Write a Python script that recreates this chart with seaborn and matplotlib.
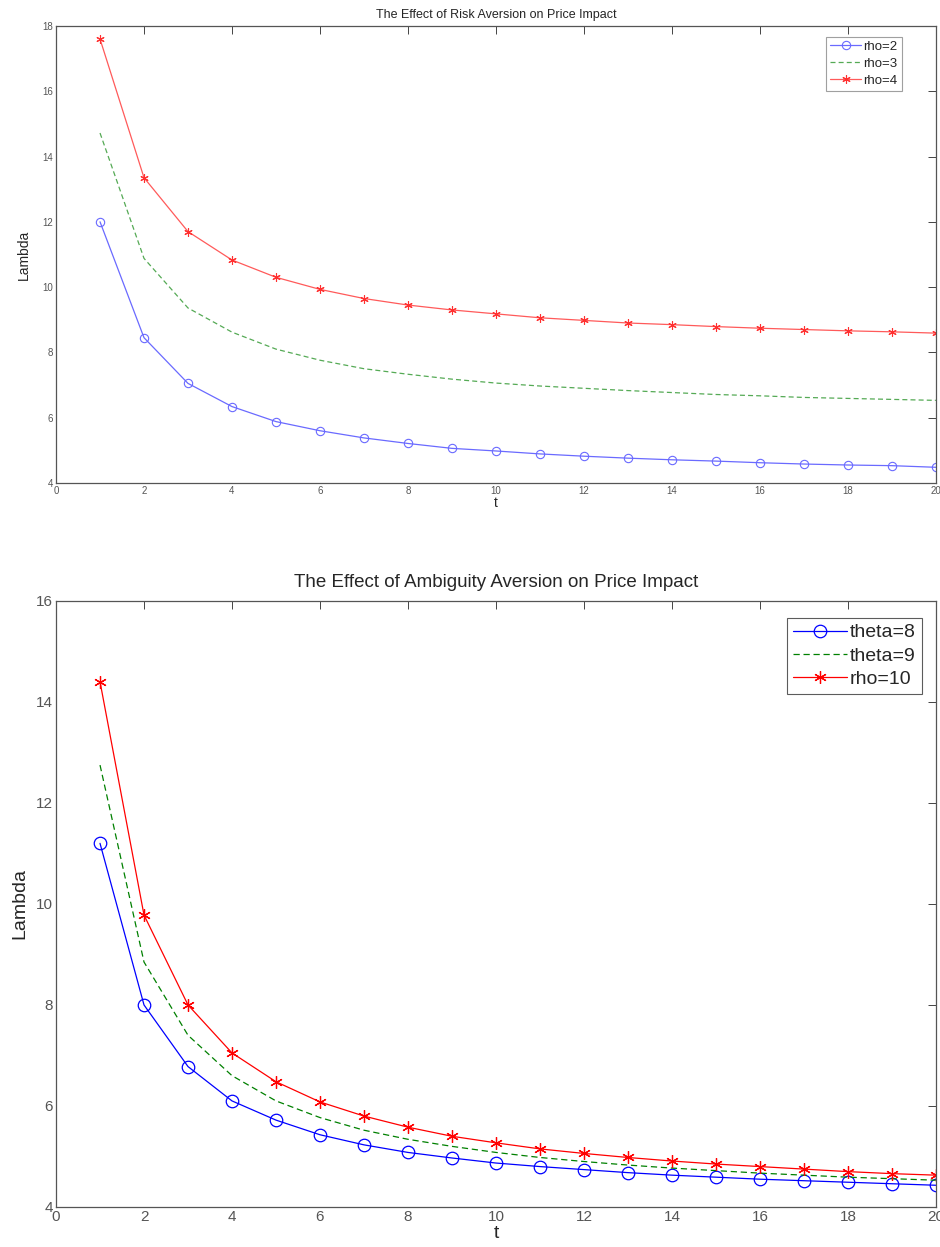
import numpy as np
import pandas as pd
import matplotlib
matplotlib.use("Agg")
import matplotlib.pyplot as plt
import seaborn as sns

sns.set_style("white")
plt.rcParams['font.family'] = ['Liberation Sans', 'DejaVu Sans']

t = list(range(1, 21))

# Top panel: risk aversion
rho2 = [12.0, 8.45, 7.05, 6.34, 5.88, 5.60, 5.38, 5.21, 5.06, 4.98, 4.89, 4.82,
        4.76, 4.71, 4.67, 4.62, 4.58, 4.55, 4.53, 4.48]
rho3 = [14.72, 10.88, 9.36, 8.62, 8.10, 7.76, 7.50, 7.33, 7.18, 7.06, 6.97, 6.90,
        6.83, 6.77, 6.71, 6.67, 6.62, 6.59, 6.56, 6.53]
rho4 = [17.6, 13.35, 11.7, 10.83, 10.3, 9.93, 9.65, 9.45, 9.3, 9.18, 9.06, 8.98,
        8.9, 8.85, 8.79, 8.74, 8.7, 8.66, 8.63, 8.59]
top_labels = ["rho=2", "rho=3", "rho=4"]

# Bottom panel: ambiguity aversion
theta8 = [11.2, 8.0, 6.78, 6.1, 5.72, 5.43, 5.23, 5.08, 4.97, 4.87, 4.8, 4.74,
          4.68, 4.63, 4.59, 4.55, 4.52, 4.49, 4.46, 4.43]
theta9 = [12.75, 8.85, 7.4, 6.6, 6.1, 5.77, 5.52, 5.34, 5.2, 5.08, 4.98, 4.9,
          4.83, 4.77, 4.72, 4.67, 4.63, 4.59, 4.56, 4.53]
rho10 = [14.4, 9.78, 8.0, 7.05, 6.48, 6.08, 5.8, 5.58, 5.4, 5.27, 5.15, 5.06,
         4.98, 4.91, 4.85, 4.8, 4.75, 4.7, 4.66, 4.63]
bot_labels = ["theta=8", "theta=9", "rho=10"]

fig = plt.figure(figsize=(9.4, 12.47), dpi=100)
ax1 = fig.add_axes([0.0596, 0.6127, 0.936, 0.3665])
ax2 = fig.add_axes([0.0596, 0.0321, 0.936, 0.486])


def style_axes(ax, ymax, fs):
    ax.set_xlim(0, 20)
    ax.set_ylim(4, ymax)
    ax.set_xticks(range(0, 21, 2))
    ax.set_yticks(range(4, ymax + 1, 2))
    ax.tick_params(direction='in', top=True, right=True, length=6, width=0.7,
                   labelsize=fs, color='#444444', labelcolor='#555555', pad=2)
    for s in ax.spines.values():
        s.set_visible(True)
        s.set_color('#555555')
        s.set_linewidth(0.9)
    ax.grid(False)


# top
sns.lineplot(x=t, y=rho2, ax=ax1, color='#6a6aff', lw=0.9, marker='o', ms=6,
             mfc='none', mec='#6a6aff', mew=0.8, label=top_labels[0])
sns.lineplot(x=t, y=rho3, ax=ax1, color='#55aa55', lw=0.9, dashes=(4, 2.5),
             label=top_labels[1])
sns.lineplot(x=t, y=rho4, ax=ax1, color='#ff5a5a', lw=0.9, marker=(6, 2, 0), ms=6,
             mec='#ff3030', mew=0.8, label=top_labels[2])
style_axes(ax1, 18, 7)
ax1.set_title("The Effect of Risk Aversion on Price Impact", fontsize=9, pad=6)
ax1.set_xlabel("t", fontsize=10, labelpad=0)
ax1.set_ylabel("Lambda", fontsize=10, labelpad=8)
leg1 = ax1.legend(loc='upper right', bbox_to_anchor=(0.961, 0.976), borderaxespad=0,
                  fontsize=9.5, frameon=True, fancybox=False,
                  handlelength=2.4, handletextpad=0.15,
                  borderpad=0.3, labelspacing=0.35)
leg1.get_frame().set_edgecolor('#888888')
leg1.get_frame().set_linewidth(0.8)

# bottom
sns.lineplot(x=t, y=theta8, ax=ax2, color='#0000ff', lw=0.9, marker='o', ms=9,
             mfc='none', mec='#0000ff', mew=0.9, label=bot_labels[0])
sns.lineplot(x=t, y=theta9, ax=ax2, color='#008000', lw=0.9, dashes=(5, 3),
             label=bot_labels[1])
sns.lineplot(x=t, y=rho10, ax=ax2, color='#ff0000', lw=0.9, marker=(6, 2, 0), ms=9,
             mec='#ff0000', mew=0.9, label=bot_labels[2])
style_axes(ax2, 16, 11)
ax2.set_title("The Effect of Ambiguity Aversion on Price Impact", fontsize=13.5, pad=10)
ax2.set_xlabel("t", fontsize=14, labelpad=1)
ax2.set_ylabel("Lambda", fontsize=14, labelpad=6)
leg2 = ax2.legend(loc='upper right', bbox_to_anchor=(0.984, 0.972), borderaxespad=0,
                  fontsize=14, frameon=True, fancybox=False,
                  handlelength=2.8, handletextpad=0.15,
                  borderpad=0.3, labelspacing=0.3)
leg2.get_frame().set_edgecolor('#333333')
leg2.get_frame().set_linewidth(0.8)

fig.savefig("out.png", dpi=100)
